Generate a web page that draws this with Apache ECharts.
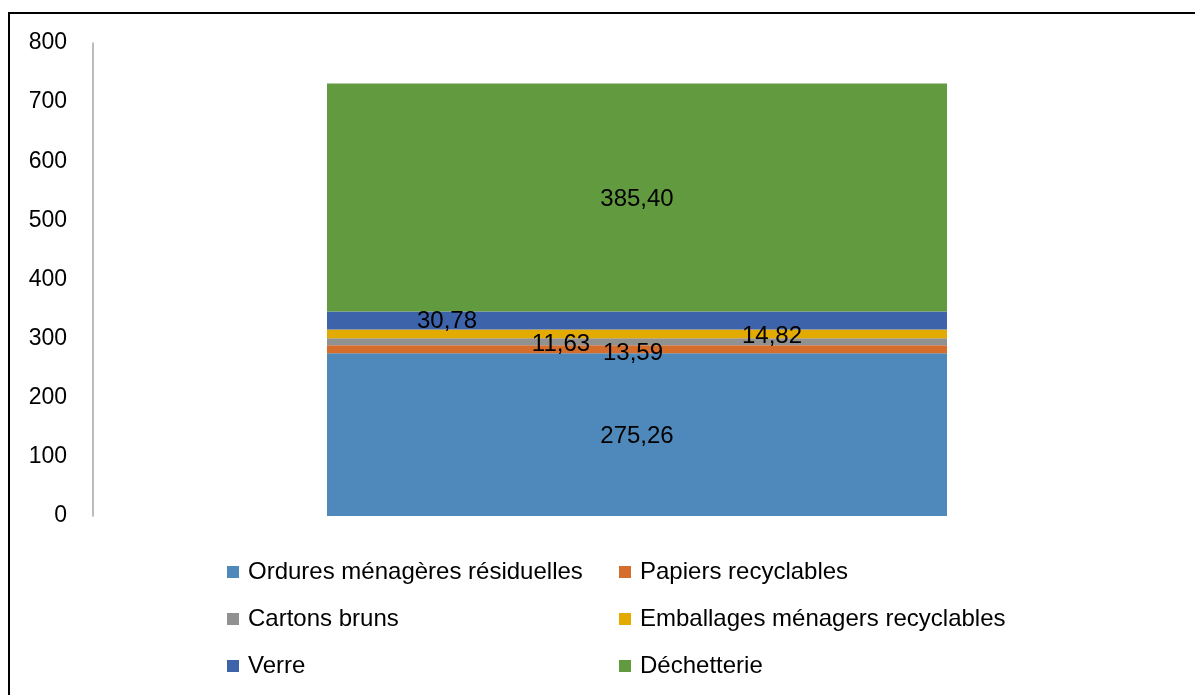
<!DOCTYPE html>
<html>
<head>
<meta charset="utf-8">
<script src="https://cdn.jsdelivr.net/npm/echarts@6/dist/echarts.min.js"></script>
<style>
  html, body { margin: 0; padding: 0; background: #ffffff; }
  #chart { width: 1195px; height: 695px; }
</style>
</head>
<body>
<div id="chart"></div>
<script>
// Tonnages collectés par filière (une seule colonne empilée)
const categories = ['Total'];
const seriesNames = [
  'Ordures ménagères résiduelles',
  'Papiers recyclables',
  'Cartons bruns',
  'Emballages ménagers recyclables',
  'Verre',
  'Déchetterie'
];
const ordures = [275.26];
const papiers = [13.59];
const cartons = [11.63];
const emballages = [14.82];
const verre = [30.78];
const dechetterie = [385.40];
const yTicks = [0, 100, 200, 300, 400, 500, 600, 700, 800];

const values = [ordures, papiers, cartons, emballages, verre, dechetterie];
const colors = ['#4F89BC', '#D56E2C', '#919191', '#E3AB00', '#3D63AB', '#629A3F'];
// décalage horizontal/vertical de chaque étiquette de valeur
const labelOffsets = [[0, 2], [-4, 4], [-76, 3], [135, 2], [-190, 1], [0, 2]];

const FONT = 'Liberation Sans, Arial, sans-serif';
const fmt = v => v.toFixed(2).replace('.', ',');

const chart = echarts.init(document.getElementById('chart'), null, { renderer: 'canvas' });

const series = seriesNames.map((name, i) => ({
  name: name,
  type: 'bar',
  stack: 'total',
  barWidth: 620,
  data: values[i],
  itemStyle: { color: colors[i] },
  emphasis: { disabled: true },
  label: {
    show: true,
    position: 'inside',
    offset: labelOffsets[i],
    color: '#000000',
    fontFamily: FONT,
    fontSize: 24,
    formatter: p => fmt(p.value)
  }
}));

const legendCommon = {
  orient: 'vertical',
  top: 554,
  itemWidth: 12,
  itemHeight: 12,
  itemGap: 21,
  icon: 'rect',
  selectedMode: false,
  textStyle: {
    fontFamily: FONT,
    fontSize: 24,
    color: '#000000',
    lineHeight: 26,
    padding: [0, 0, 0, 4]
  }
};

chart.setOption({
  animation: false,
  backgroundColor: '#ffffff',
  grid: { left: 93, right: 14, top: 43, bottom: 179, containLabel: false },
  xAxis: {
    type: 'category',
    data: categories,
    axisLine: { show: false },
    axisTick: { show: false },
    axisLabel: { show: false }
  },
  yAxis: {
    type: 'value',
    min: yTicks[0],
    max: yTicks[yTicks.length - 1],
    interval: yTicks[1] - yTicks[0],
    axisLine: { show: true, lineStyle: { color: '#A6A6A6', width: 1.5 } },
    axisTick: { show: false },
    splitLine: { show: false },
    axisLabel: {
      color: '#000000',
      fontFamily: FONT,
      fontSize: 23,
      margin: 26,
      padding: [6, 0, 0, 0]
    }
  },
  legend: [
    Object.assign({}, legendCommon, {
      left: 222,
      data: [seriesNames[0], seriesNames[2], seriesNames[4]]
    }),
    Object.assign({}, legendCommon, {
      left: 614,
      data: [seriesNames[1], seriesNames[3], seriesNames[5]]
    })
  ],
  graphic: [
    {
      type: 'polyline',
      silent: true,
      shape: { points: [[9, 695], [9, 13], [1195, 13]] },
      style: { stroke: '#000000', lineWidth: 2, fill: null }
    }
  ],
  series: series
});
</script>
</body>
</html>
